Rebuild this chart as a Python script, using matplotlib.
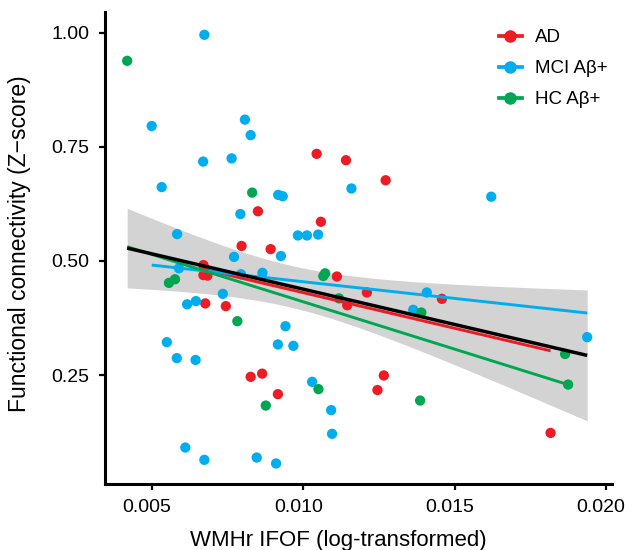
import numpy as np
import matplotlib
matplotlib.use("Agg")
import matplotlib.pyplot as plt
import matplotlib.transforms as mtransforms
from matplotlib.lines import Line2D

plt.rcParams['font.family'] = ['Liberation Sans', 'DejaVu Sans']

# ---------------- data ----------------
groups = ["AD", "MCI A\u03b2+", "HC A\u03b2+"]
colors = ["#ED1C24", "#00AEEF", "#00A651"]

ad_x = [0.01044, 0.01141, 0.01272, 0.00850, 0.01058, 0.00796, 0.00892, 0.00670,
        0.00670, 0.00683, 0.01111, 0.00744, 0.00676, 0.01145, 0.01210, 0.01458,
        0.00826, 0.00864, 0.00916, 0.01266, 0.01245, 0.01817]
ad_y = [0.735, 0.721, 0.677, 0.609, 0.586, 0.533, 0.526, 0.491,
        0.469, 0.468, 0.466, 0.401, 0.407, 0.403, 0.431, 0.417,
        0.246, 0.253, 0.208, 0.249, 0.217, 0.123]

mci_x = [0.00673, 0.00499, 0.00807, 0.00826, 0.00669, 0.00763, 0.00532, 0.00917,
         0.00932, 0.01159, 0.01621, 0.00792, 0.00583, 0.00982, 0.01012, 0.01049,
         0.00926, 0.00771, 0.00589, 0.00794, 0.00865, 0.00734, 0.00616, 0.00645,
         0.00941, 0.00916, 0.00967, 0.00549, 0.00582, 0.00644, 0.01029, 0.01092,
         0.01095, 0.00610, 0.00673, 0.00846, 0.00910, 0.01408, 0.01363, 0.01938]
mci_y = [0.996, 0.796, 0.810, 0.776, 0.718, 0.725, 0.662, 0.645,
         0.642, 0.659, 0.641, 0.603, 0.559, 0.556, 0.556, 0.558,
         0.511, 0.509, 0.484, 0.471, 0.474, 0.428, 0.405, 0.412,
         0.357, 0.317, 0.314, 0.322, 0.287, 0.283, 0.235, 0.173,
         0.121, 0.091, 0.064, 0.069, 0.056, 0.431, 0.393, 0.333]

hc_x = [0.00418, 0.00831, 0.00556, 0.00576, 0.01066, 0.01072, 0.01118, 0.00782,
        0.01050, 0.00876, 0.01390, 0.01865, 0.01875, 0.01386]
hc_y = [0.939, 0.650, 0.452, 0.460, 0.467, 0.473, 0.418, 0.368,
        0.219, 0.183, 0.387, 0.296, 0.229, 0.194]

# regression coefficients (intercept, slope)
group_intercepts = [0.5865, 0.5276, 0.6181]
group_slopes = [-15.6, -7.31, -20.76]
all_intercept = 0.593
all_slope = -15.48

xticks = [0.005, 0.010, 0.015, 0.020]
xtick_labels = ["0.005", "0.010", "0.015", "0.020"]
yticks = [0.25, 0.50, 0.75, 1.00]
ytick_labels = ["0.25", "0.50", "0.75", "1.00"]

# ---------------- figure ----------------
fig = plt.figure(figsize=(6.36, 5.5), dpi=100)
ax = fig.add_axes([105/636, 66/550, 507/636, 472/550])

xs = [np.array(ad_x), np.array(mci_x), np.array(hc_x)]
ys = [np.array(ad_y), np.array(mci_y), np.array(hc_y)]
allx = np.concatenate(xs)
ally = np.concatenate(ys)

# confidence band of overall fit
n = len(allx)
xg = np.linspace(allx.min(), allx.max(), 200)
fit = all_intercept + all_slope * xg
resid = ally - (all_intercept + all_slope * allx)
s = np.sqrt(np.sum(resid**2) / (n - 2))
xbar = allx.mean()
sxx = np.sum((allx - xbar)**2)
se = s * np.sqrt(1.0 / n + (xg - xbar)**2 / sxx)
tval = 1.993
ax.fill_between(xg, fit - tval * se, fit + tval * se, color="#d3d3d3",
                linewidth=0, zorder=1)

for x, y, c in zip(xs, ys, colors):
    ax.scatter(x, y, s=55, color=c, edgecolors="none", zorder=3)

for x, b0, b1, c in zip(xs, group_intercepts, group_slopes, colors):
    xl = np.array([x.min(), x.max()])
    ax.plot(xl, b0 + b1 * xl, color=c, lw=2.1, zorder=4, solid_capstyle="butt")

ax.plot(xg, fit, color="black", lw=2.5, zorder=5, solid_capstyle="butt")

ax.set_xlim(0.003447, 0.0202)
ax.set_ylim(0.011, 1.046)
ax.set_xticks(xticks)
ax.set_xticklabels(xtick_labels)
ax.set_yticks(yticks)
ax.set_yticklabels(ytick_labels)

for sp in ["top", "right"]:
    ax.spines[sp].set_visible(False)
for sp in ["left", "bottom"]:
    ax.spines[sp].set_linewidth(2.2)
ax.tick_params(axis="both", direction="out", length=4, width=1.6,
               labelsize=14, pad=7, colors="black")

shift = mtransforms.ScaledTranslation(-5/100, 0, fig.dpi_scale_trans)
for lab in ax.get_xticklabels():
    lab.set_transform(lab.get_transform() + shift)

ax.set_xlabel("WMHr IFOF (log-transformed)", fontsize=16)
ax.set_ylabel("Functional connectivity (Z\u2212score)", fontsize=16.5)
ax.xaxis.set_label_coords(0.46, -0.097)
ax.yaxis.set_label_coords(-0.145, 0.51)

handles = [Line2D([0], [0], color=c, lw=2.7, marker="o", markersize=9,
                  markeredgewidth=0) for c in colors]
fig.legend(handles, groups, loc="upper left",
           bbox_to_anchor=(499/636, (550 - 29)/550),
           bbox_transform=fig.transFigure, frameon=False, fontsize=13.5,
           handlelength=1.2, handletextpad=0.7, labelspacing=0.75,
           borderpad=0, borderaxespad=0)

fig.savefig("out.png", dpi=100)
